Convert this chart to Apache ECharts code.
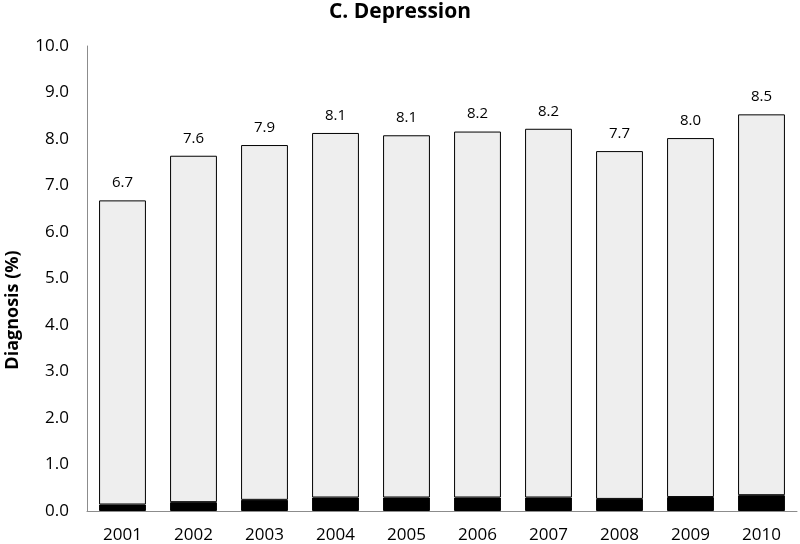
<!DOCTYPE html>
<html>
<head>
<meta charset="utf-8">
<script src="https://cdn.jsdelivr.net/npm/echarts@6/dist/echarts.min.js"></script>
<style>html,body{margin:0;padding:0;background:#fff;}#c{width:800px;height:544px;}</style>
</head>
<body>
<div id="c"></div>
<script>
const years = ['2001','2002','2003','2004','2005','2006','2007','2008','2009','2010'];
const totals = [6.68, 7.64, 7.87, 8.13, 8.08, 8.16, 8.22, 7.74, 8.02, 8.53];
const bottomPart = [0.14, 0.19, 0.24, 0.29, 0.29, 0.29, 0.29, 0.26, 0.30, 0.34];
const yTicks = [0, 1, 2, 3, 4, 5, 6, 7, 8, 9, 10];

const topPart = totals.map((t, i) => +(t - bottomPart[i]).toFixed(2));
const font = '"Open Sans", "Liberation Sans", sans-serif';

const chart = echarts.init(document.getElementById('c'));
chart.setOption({
  animation: false,
  backgroundColor: '#fff',
  title: {
    text: 'C. Depression', left: 'center', top: -3,
    textStyle: { fontFamily: font, fontWeight: 'bold', fontSize: 21, color: '#000' }
  },
  grid: { left: 87, right: 3, top: 46, bottom: 33, containLabel: false },
  graphic: [{
    type: 'text', x: 13, y: 310, rotation: Math.PI / 2,
    style: { text: 'Diagnosis (%)', font: 'bold 18px ' + font, fill: '#000', align: 'center', verticalAlign: 'middle' }
  }],
  xAxis: {
    type: 'category', data: years,
    axisLine: { lineStyle: { color: '#8c8c8c', width: 1 } },
    axisTick: { show: false },
    axisLabel: { fontFamily: font, fontSize: 17, color: '#000', margin: 16 }
  },
  yAxis: {
    type: 'value', min: yTicks[0], max: yTicks[yTicks.length - 1], interval: 1,
    axisLine: { show: true, lineStyle: { color: '#8c8c8c', width: 1 } },
    axisTick: { show: false },
    splitLine: { show: false },
    axisLabel: { fontFamily: font, fontSize: 17, color: '#000', margin: 18, formatter: v => v.toFixed(1) }
  },
  series: [
    {
      type: 'bar', stack: 'a', data: bottomPart, barCategoryGap: '34%',
      itemStyle: { color: '#000', borderColor: '#000', borderWidth: 1 }
    },
    {
      type: 'bar', stack: 'a', data: topPart,
      itemStyle: { color: '#eeeeee', borderColor: '#000', borderWidth: 1 },
      label: {
        show: true, position: 'top', distance: 10,
        fontFamily: font, fontSize: 15, color: '#000',
        formatter: p => totals[p.dataIndex].toFixed(1)
      }
    }
  ]
});
</script>
</body>
</html>
